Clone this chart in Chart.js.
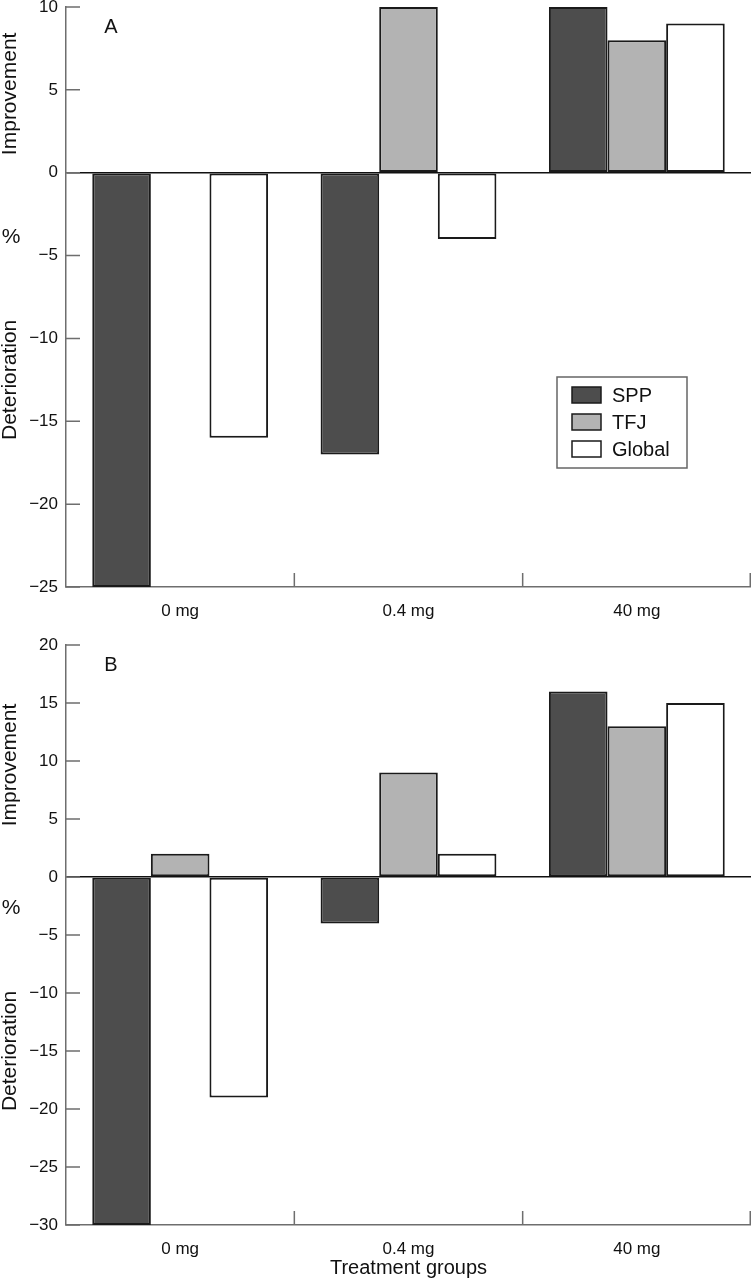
<!DOCTYPE html>
<html lang="en">
<head>
	<meta charset="UTF-8" />
	<title>Treatment groups</title>
	<script src="https://cdn.jsdelivr.net/npm/chart.js@4"></script>
	<style>
		body { margin: 0; background: #fff; }
		canvas { display: block; }
	</style>
</head>
<body>
	<canvas id="chartA" width="751" height="625"></canvas>
	<canvas id="chartB" width="751" height="655"></canvas>
	<script>
		const categories = ['0 mg', '0.4 mg', '40 mg'];
		const seriesNames = ['SPP', 'TFJ', 'Global'];
		const seriesColors = ['#4d4d4d', '#b3b3b3', '#ffffff'];

		// panel A
		const sppA = [-25, -17, 10];
		const tfjA = [0, 10, 8];
		const globalA = [-16, -4, 9];
		const rangeA = [-25, 10];

		// panel B
		const sppB = [-30, -4, 16];
		const tfjB = [2, 9, 13];
		const globalB = [-19, 2, 15];
		const rangeB = [-30, 20];

		const tickStep = 5;

		const FONT = '"Liberation Sans", Arial, Helvetica, sans-serif';
		const TEXT = '#111';
		const AXIS_GRAY = '#6e6e6e';

		function withMinus(v) {
			return v < 0 ? '\u2212' + Math.abs(v) : String(v);
		}

		// short tick marks pointing into the plot
		const innerTicks = {
			id: 'innerTicks',
			afterDatasetsDraw(chart) {
				const { ctx, chartArea: a, scales: { x, y } } = chart;
				ctx.save();
				ctx.strokeStyle = AXIS_GRAY;
				ctx.lineWidth = 1.5;
				ctx.beginPath();
				y.ticks.forEach(t => {
					const py = y.getPixelForValue(t.value);
					ctx.moveTo(a.left, py);
					ctx.lineTo(a.left + 14, py);
				});
				for (let i = 1; i <= categories.length; i++) {
					const px = i < categories.length
						? (x.getPixelForValue(i - 1) + x.getPixelForValue(i)) / 2
						: a.right - 0.75;
					ctx.moveTo(px, a.bottom);
					ctx.lineTo(px, a.bottom - 14);
				}
				ctx.stroke();
				ctx.restore();
			}
		};

		// "Improvement", "%" and "Deterioration" down the left side
		const sideTitles = {
			id: 'sideTitles',
			afterDraw(chart) {
				const { ctx, chartArea: a, scales: { y } } = chart;
				const zero = y.getPixelForValue(0);
				const upMid = (a.top + zero) / 2 + 4;
				const downMid = (zero + a.bottom) / 2;

				ctx.save();
				ctx.font = '21px ' + FONT;
				ctx.fillStyle = TEXT;
				ctx.textAlign = 'center';
				ctx.textBaseline = 'alphabetic';
				const wUp = ctx.measureText('Improvement').width;
				const wDown = ctx.measureText('Deterioration').width;

				ctx.save();
				ctx.translate(16, upMid);
				ctx.rotate(-Math.PI / 2);
				ctx.fillText('Improvement', 0, 0);
				ctx.restore();

				ctx.save();
				ctx.translate(16, downMid);
				ctx.rotate(-Math.PI / 2);
				ctx.fillText('Deterioration', 0, 0);
				ctx.restore();

				const pctY = ((upMid + wUp / 2) + (downMid - wDown / 2)) / 2;
				ctx.textBaseline = 'middle';
				ctx.fillText('%', 11, pctY);
				ctx.restore();
			}
		};

		const panelLetter = {
			id: 'panelLetter',
			afterDraw(chart, args, opts) {
				const { ctx, chartArea: a } = chart;
				ctx.save();
				ctx.font = '20px ' + FONT;
				ctx.fillStyle = TEXT;
				ctx.textAlign = 'center';
				ctx.textBaseline = 'middle';
				ctx.fillText(opts.text, a.left + 45, a.top + 20);
				ctx.restore();
			}
		};

		// boxed legend sitting inside the plot of panel A
		const boxLegend = {
			id: 'boxLegend',
			afterDraw(chart, args, opts) {
				if (!opts.display) {
					return;
				}
				const { ctx, chartArea: a } = chart;
				const x0 = a.right - 194;
				const y0 = a.top + 370;
				ctx.save();
				ctx.lineWidth = 1.5;
				ctx.strokeStyle = '#666';
				ctx.strokeRect(x0, y0, 130, 91);

				ctx.font = '20px ' + FONT;
				ctx.textAlign = 'left';
				ctx.textBaseline = 'middle';
				chart.data.datasets.forEach((ds, i) => {
					const cy = y0 + 18 + i * 27;
					ctx.fillStyle = ds.backgroundColor;
					ctx.fillRect(x0 + 15, cy - 8, 29, 16);
					ctx.strokeStyle = '#1a1a1a';
					ctx.strokeRect(x0 + 15, cy - 8, 29, 16);
					ctx.fillStyle = TEXT;
					ctx.fillText(ds.label, x0 + 55, cy + 1);
				});
				ctx.restore();
			}
		};

		function makeChart(id, letter, values, range, opts) {
			const datasets = values.map((data, i) => ({
				label: seriesNames[i],
				data: data,
				backgroundColor: seriesColors[i],
				borderColor: '#1a1a1a',
				borderWidth: 2,
				borderSkipped: false,
				categoryPercentage: 0.77,
				barPercentage: 1.0,
			}));

			return new Chart(document.getElementById(id), {
				type: 'bar',
				data: { labels: categories, datasets: datasets },
				plugins: [innerTicks, sideTitles, panelLetter, boxLegend],
				options: {
					responsive: false,
					animation: false,
					layout: { padding: { top: opts.padTop, right: 0, bottom: 0, left: 0 } },
					plugins: {
						legend: { display: false },
						tooltip: { enabled: false },
						panelLetter: { text: letter },
						boxLegend: { display: opts.legend },
					},
					scales: {
						x: {
							grid: { display: false },
							border: { display: true, color: AXIS_GRAY, width: 1.5 },
							ticks: { color: TEXT, font: { family: FONT, size: 17 }, padding: 6 },
							title: {
								display: !!opts.xTitle,
								text: opts.xTitle || '',
								color: TEXT,
								font: { family: FONT, size: 20 },
								padding: { top: 0, bottom: 0 },
							},
							afterFit(scale) {
								scale.height = opts.xHeight;
								scale.paddingLeft = 0;
								scale.paddingRight = 0;
							},
						},
						y: {
							min: range[0],
							max: range[1],
							ticks: {
								stepSize: tickStep,
								color: TEXT,
								font: { family: FONT, size: 17 },
								padding: 8,
								callback: v => withMinus(v),
							},
							grid: {
								drawTicks: false,
								lineWidth: 1.5,
								color: c => (c.tick && c.tick.value === 0 ? '#111' : 'rgba(0,0,0,0)'),
							},
							border: { display: true, color: AXIS_GRAY, width: 1.5 },
							afterFit(scale) {
								scale.width = 66;
								scale.paddingTop = 0;
								scale.paddingBottom = 0;
							},
						},
					},
				},
			});
		}

		makeChart('chartA', 'A', [sppA, tfjA, globalA], rangeA, { padTop: 7, xHeight: 38, legend: true });
		makeChart('chartB', 'B', [sppB, tfjB, globalB], rangeB, { padTop: 20, xHeight: 55, legend: false, xTitle: 'Treatment groups' });
	</script>
</body>
</html>
